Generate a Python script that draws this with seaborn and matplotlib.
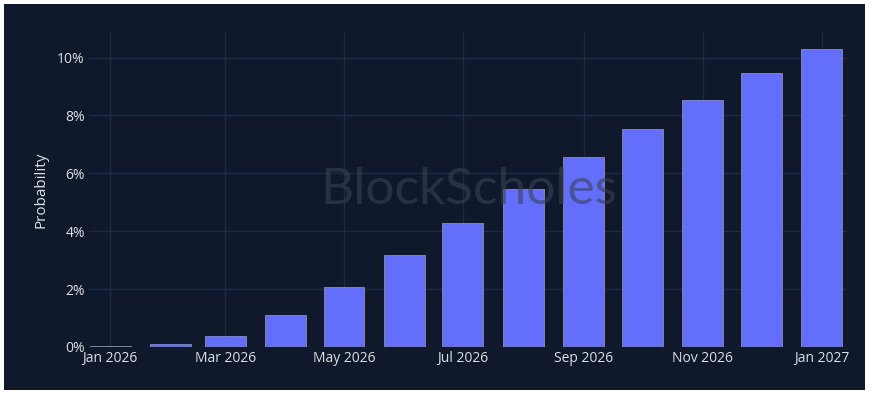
import datetime as dt
import matplotlib
matplotlib.use("Agg")
import matplotlib.pyplot as plt
import matplotlib.dates as mdates
from matplotlib.patches import Rectangle
from matplotlib.ticker import FuncFormatter, FixedLocator
import seaborn as sns
import pandas as pd

# ---- data ----
months = ["2026-01-01", "2026-02-01", "2026-03-01", "2026-04-01", "2026-05-01",
          "2026-06-01", "2026-07-01", "2026-08-01", "2026-09-01", "2026-10-01",
          "2026-11-01", "2026-12-01", "2027-01-01"]
probability = [0.02, 0.09, 0.39, 1.11, 2.07, 3.19, 4.28, 5.46, 6.57, 7.54, 8.55, 9.46, 10.29]
tick_dates = ["2026-01-01", "2026-03-01", "2026-05-01", "2026-07-01",
              "2026-09-01", "2026-11-01", "2027-01-01"]
tick_labels = ["Jan 2026", "Mar 2026", "May 2026", "Jul 2026", "Sep 2026", "Nov 2026", "Jan 2027"]
y_ticks = [0, 2, 4, 6, 8, 10]

BG = "#0f192b"
GRID = "#1d2a45"
BAR = "#636efa"
TXT = "#dcdfe6"

sns.set_theme(style="dark")
plt.rcParams["font.family"] = ["Open Sans", "DejaVu Sans"]

xnum = mdates.date2num(pd.to_datetime(months))
df = pd.DataFrame({"x": xnum, "p": probability})

fig = plt.figure(figsize=(8.71, 3.96), dpi=100, facecolor="white")
fig.patches.append(Rectangle((4 / 871, 6 / 396), 861 / 871, 386 / 396,
                             transform=fig.transFigure, facecolor=BG,
                             edgecolor="none", zorder=-10))
W, H = 871, 396
ax = fig.add_axes([89 / W, (H - 347) / H, (847 - 89) / W, (347 - 33) / H])
ax.set_facecolor(BG)

sns.barplot(data=df, x="x", y="p", native_scale=True, width=0.75,
            color=BAR, saturation=1, edgecolor="#80859f", linewidth=0.7, ax=ax, zorder=3)

x0 = mdates.date2num(dt.datetime(2026, 1, 1)) - 10.8
x1 = mdates.date2num(dt.datetime(2027, 1, 1)) + 13
ax.set_xlim(x0, x1)
ax.set_ylim(0, 10.85)

tnum = mdates.date2num(pd.to_datetime(tick_dates))
ax.xaxis.set_major_locator(FixedLocator(tnum))
ax.set_xticklabels(tick_labels)
ax.yaxis.set_major_locator(FixedLocator(y_ticks))
ax.yaxis.set_major_formatter(FuncFormatter(lambda v, p: f"{v:.0f}%"))

ax.grid(True, color=GRID, linewidth=1, zorder=0)
ax.set_axisbelow(True)
for s in ax.spines.values():
    s.set_visible(False)
ax.tick_params(axis="both", length=0, colors=TXT, labelsize=10)
ax.tick_params(axis="y", pad=3)
ax.tick_params(axis="x", pad=3)
for lab in ax.get_xticklabels() + ax.get_yticklabels():
    lab.set_fontweight("medium")
ax.set_xlabel("")
ax.set_ylabel("Probability", color=TXT, fontsize=11, labelpad=6, fontweight="medium")

fig.text(469 / W, 1 - 190 / H, "BlockScholes", color="#3a4254", alpha=0.6,
         fontsize=37, ha="center", va="center", family=["Lato", "DejaVu Sans"],
         zorder=10)

fig.savefig("out.png", dpi=100, facecolor="white")
